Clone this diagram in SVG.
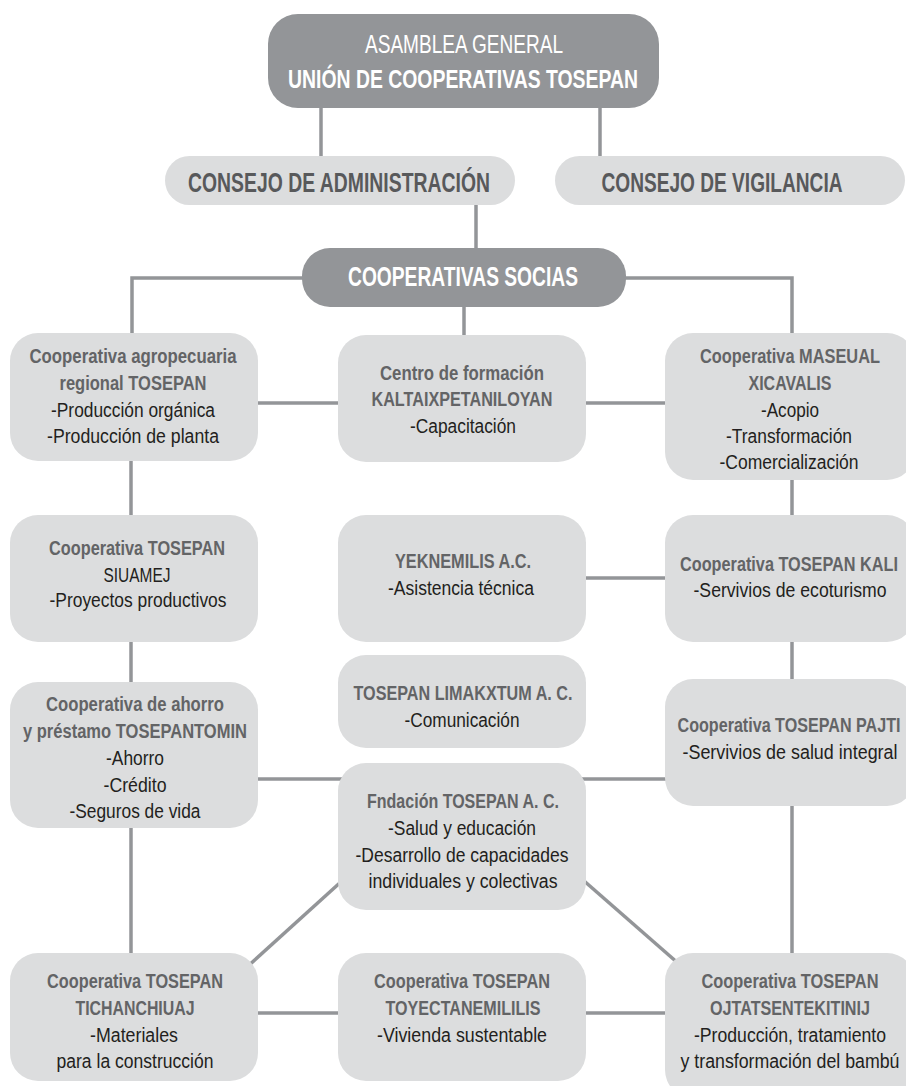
<svg xmlns="http://www.w3.org/2000/svg" width="906" height="1086" viewBox="0 0 906 1086">
<style>
.dk{fill:#939598}
.lt{fill:#dcddde}
.c{stroke:#939598;stroke-width:3.5;fill:none}
text{font-family:"Liberation Sans",Arial,sans-serif;text-anchor:middle}
.h{font-size:27px;font-weight:bold;fill:#58595b}
.w{fill:#ffffff}
.b{font-size:20px;font-weight:bold;fill:#636466}
.n{font-size:20px;fill:#231f20}
</style>
<rect width="906" height="1086" fill="#ffffff"/>
<g id="connectors" class="c">
<line x1="321" y1="100" x2="321" y2="160"/>
<line x1="600" y1="100" x2="600" y2="160"/>
<line x1="476" y1="200" x2="476" y2="252"/>
<polyline points="305,278 132,278 132,340"/>
<polyline points="620,278 792,278 792,340"/>
<line x1="464" y1="300" x2="464" y2="340"/>
<line x1="250" y1="403" x2="345" y2="403"/>
<line x1="580" y1="403" x2="672" y2="403"/>
<line x1="131" y1="455" x2="131" y2="520"/>
<line x1="131" y1="635" x2="131" y2="688"/>
<line x1="131" y1="820" x2="131" y2="960"/>
<line x1="792" y1="475" x2="792" y2="520"/>
<line x1="792" y1="635" x2="792" y2="685"/>
<line x1="792" y1="800" x2="792" y2="960"/>
<line x1="580" y1="578" x2="672" y2="578"/>
<line x1="250" y1="779" x2="345" y2="779"/>
<line x1="580" y1="779" x2="672" y2="779"/>
<line x1="343" y1="880" x2="247" y2="967"/>
<line x1="583" y1="880" x2="679" y2="964"/>
<line x1="250" y1="1013" x2="345" y2="1013"/>
<line x1="580" y1="1013" x2="672" y2="1013"/>
</g>
<g id="asamblea">
<rect class="dk" x="268" y="14" width="391" height="94" rx="30"/>
<text class="w" x="464" y="53" font-size="25" textLength="198" lengthAdjust="spacingAndGlyphs">ASAMBLEA GENERAL</text>
<text class="w" x="463" y="88" font-size="26" font-weight="bold" textLength="350" lengthAdjust="spacingAndGlyphs">UNIÓN DE COOPERATIVAS TOSEPAN</text>
</g>
<g id="consejo-admin">
<rect class="lt" x="165" y="156" width="350" height="49" rx="24.5"/>
<text class="h" x="339" y="192" textLength="302" lengthAdjust="spacingAndGlyphs">CONSEJO DE ADMINISTRACIÓN</text>
</g>
<g id="consejo-vigilancia">
<rect class="lt" x="555" y="156" width="350" height="49" rx="24.5"/>
<text class="h" x="722" y="192" textLength="241" lengthAdjust="spacingAndGlyphs">CONSEJO DE VIGILANCIA</text>
</g>
<g id="cooperativas-socias">
<rect class="dk" x="302" y="248" width="324" height="59" rx="28"/>
<text class="h w" x="463" y="286" textLength="230" lengthAdjust="spacingAndGlyphs">COOPERATIVAS SOCIAS</text>
</g>
<g id="agropecuaria">
<rect class="lt" x="10" y="333" width="248" height="128" rx="28"/>
<text class="b" x="133" y="363" textLength="207" lengthAdjust="spacingAndGlyphs">Cooperativa agropecuaria</text>
<text class="b" x="133" y="390" textLength="147" lengthAdjust="spacingAndGlyphs">regional TOSEPAN</text>
<text class="n" x="133" y="417" textLength="164" lengthAdjust="spacingAndGlyphs">-Producción orgánica</text>
<text class="n" x="133" y="443" textLength="172" lengthAdjust="spacingAndGlyphs">-Producción de planta</text>
</g>
<g id="centro-formacion">
<rect class="lt" x="338" y="335" width="248" height="127" rx="28"/>
<text class="b" x="462" y="380" textLength="164" lengthAdjust="spacingAndGlyphs">Centro de formación</text>
<text class="b" x="462" y="406" textLength="181" lengthAdjust="spacingAndGlyphs">KALTAIXPETANILOYAN</text>
<text class="n" x="463" y="433" textLength="106" lengthAdjust="spacingAndGlyphs">-Capacitación</text>
</g>
<g id="maseual">
<rect class="lt" x="665" y="333" width="250" height="147" rx="28"/>
<text class="b" x="790" y="363" textLength="180" lengthAdjust="spacingAndGlyphs">Cooperativa MASEUAL</text>
<text class="b" x="790" y="390" textLength="83" lengthAdjust="spacingAndGlyphs">XICAVALIS</text>
<text class="n" x="790" y="417" textLength="58" lengthAdjust="spacingAndGlyphs">-Acopio</text>
<text class="n" x="789" y="443" textLength="126" lengthAdjust="spacingAndGlyphs">-Transformación</text>
<text class="n" x="789" y="469" textLength="139" lengthAdjust="spacingAndGlyphs">-Comercialización</text>
</g>
<g id="siuamej">
<rect class="lt" x="10" y="515" width="248" height="127" rx="28"/>
<text class="b" x="137" y="555" textLength="176" lengthAdjust="spacingAndGlyphs">Cooperativa TOSEPAN</text>
<text class="n" x="137" y="582" textLength="67" lengthAdjust="spacingAndGlyphs">SIUAMEJ</text>
<text class="n" x="138" y="607" textLength="177" lengthAdjust="spacingAndGlyphs">-Proyectos productivos</text>
</g>
<g id="yeknemilis">
<rect class="lt" x="338" y="515" width="248" height="127" rx="28"/>
<text class="b" x="463" y="568" textLength="136" lengthAdjust="spacingAndGlyphs">YEKNEMILIS A.C.</text>
<text class="n" x="461" y="595" textLength="146" lengthAdjust="spacingAndGlyphs">-Asistencia técnica</text>
</g>
<g id="kali">
<rect class="lt" x="665" y="515" width="250" height="127" rx="28"/>
<text class="b" x="789" y="571" textLength="218" lengthAdjust="spacingAndGlyphs">Cooperativa TOSEPAN KALI</text>
<text class="n" x="790" y="597" textLength="193" lengthAdjust="spacingAndGlyphs">-Servivios de ecoturismo</text>
</g>
<g id="limakxtum">
<rect class="lt" x="338" y="655" width="248" height="93" rx="28"/>
<text class="b" x="463" y="700" textLength="219" lengthAdjust="spacingAndGlyphs">TOSEPAN LIMAKXTUM A. C.</text>
<text class="n" x="462" y="727" textLength="115" lengthAdjust="spacingAndGlyphs">-Comunicación</text>
</g>
<g id="tosepantomin">
<rect class="lt" x="10" y="682" width="248" height="146" rx="28"/>
<text class="b" x="135" y="711" textLength="178" lengthAdjust="spacingAndGlyphs">Cooperativa de ahorro</text>
<text class="b" x="135" y="738" textLength="224" lengthAdjust="spacingAndGlyphs">y préstamo TOSEPANTOMIN</text>
<text class="n" x="135" y="765" textLength="58" lengthAdjust="spacingAndGlyphs">-Ahorro</text>
<text class="n" x="135" y="792" textLength="63" lengthAdjust="spacingAndGlyphs">-Crédito</text>
<text class="n" x="135" y="818" textLength="131" lengthAdjust="spacingAndGlyphs">-Seguros de vida</text>
</g>
<g id="pajti">
<rect class="lt" x="665" y="679" width="250" height="127" rx="28"/>
<text class="b" x="789" y="732" textLength="223" lengthAdjust="spacingAndGlyphs">Cooperativa TOSEPAN PAJTI</text>
<text class="n" x="790" y="759" textLength="215" lengthAdjust="spacingAndGlyphs">-Servivios de salud integral</text>
</g>
<g id="fundacion">
<rect class="lt" x="338" y="763" width="248" height="147" rx="28"/>
<text class="b" x="463" y="808" textLength="192" lengthAdjust="spacingAndGlyphs">Fndación TOSEPAN A. C.</text>
<text class="n" x="462" y="835" textLength="148" lengthAdjust="spacingAndGlyphs">-Salud y educación</text>
<text class="n" x="462" y="862" textLength="213" lengthAdjust="spacingAndGlyphs">-Desarrollo de capacidades</text>
<text class="n" x="463" y="888" textLength="189" lengthAdjust="spacingAndGlyphs">individuales y colectivas</text>
</g>
<g id="tichanchiuaj">
<rect class="lt" x="10" y="953" width="248" height="128" rx="28"/>
<text class="b" x="135" y="988" textLength="176" lengthAdjust="spacingAndGlyphs">Cooperativa TOSEPAN</text>
<text class="b" x="135" y="1015" textLength="119" lengthAdjust="spacingAndGlyphs">TICHANCHIUAJ</text>
<text class="n" x="134" y="1042" textLength="88" lengthAdjust="spacingAndGlyphs">-Materiales</text>
<text class="n" x="135" y="1068" textLength="157" lengthAdjust="spacingAndGlyphs">para la construcción</text>
</g>
<g id="toyectanemililis">
<rect class="lt" x="338" y="953" width="248" height="128" rx="28"/>
<text class="b" x="462" y="988" textLength="176" lengthAdjust="spacingAndGlyphs">Cooperativa TOSEPAN</text>
<text class="b" x="463" y="1015" textLength="155" lengthAdjust="spacingAndGlyphs">TOYECTANEMILILIS</text>
<text class="n" x="462" y="1042" textLength="170" lengthAdjust="spacingAndGlyphs">-Vivienda sustentable</text>
</g>
<g id="ojtatsentekitinij">
<rect class="lt" x="665" y="953" width="250" height="145" rx="28"/>
<text class="b" x="790" y="988" textLength="177" lengthAdjust="spacingAndGlyphs">Cooperativa TOSEPAN</text>
<text class="b" x="790" y="1015" textLength="160" lengthAdjust="spacingAndGlyphs">OJTATSENTEKITINIJ</text>
<text class="n" x="790" y="1042" textLength="192" lengthAdjust="spacingAndGlyphs">-Producción, tratamiento</text>
<text class="n" x="790" y="1068" textLength="219" lengthAdjust="spacingAndGlyphs">y transformación del bambú</text>
</g>
</svg>
